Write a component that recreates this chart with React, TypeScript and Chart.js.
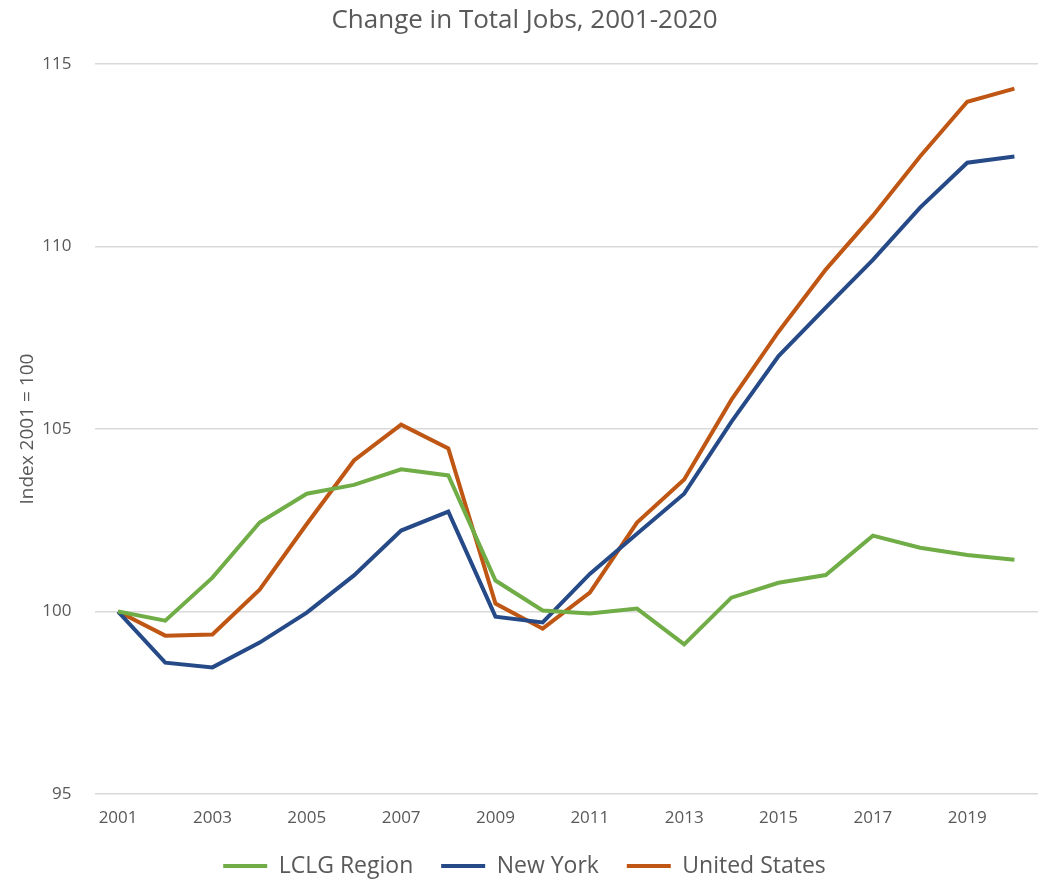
import React, { useEffect, useRef } from "react";
import { Chart, registerables } from "chart.js";

Chart.register(...registerables);

const years = [
  "2001", "2002", "2003", "2004", "2005", "2006", "2007", "2008", "2009", "2010",
  "2011", "2012", "2013", "2014", "2015", "2016", "2017", "2018", "2019", "2020",
];
const lclgRegion = [
  100, 99.75, 100.93, 102.44, 103.23, 103.47, 103.9, 103.73, 100.85, 100.03,
  99.95, 100.08, 99.1, 100.38, 100.79, 101.0, 102.08, 101.75, 101.55, 101.42,
];
const newYork = [
  100, 98.6, 98.47, 99.15, 99.97, 100.99, 102.22, 102.74, 99.86, 99.7,
  101.03, 102.13, 103.23, 105.2, 107.0, 108.33, 109.64, 111.07, 112.3, 112.47,
];
const unitedStates = [
  100, 99.34, 99.37, 100.6, 102.4, 104.14, 105.12, 104.47, 100.22, 99.53,
  100.52, 102.44, 103.62, 105.8, 107.67, 109.37, 110.85, 112.47, 113.97, 114.33,
];
const yTicks = [95, 100, 105, 110, 115];

const FONT = "'Open Sans', 'Liberation Sans', sans-serif";
const GRAY = "#595959";
const BOTTOM_PAD = -4.5;
const LEFT_PAD = 5;

export default function App() {
  const ref = useRef<HTMLCanvasElement | null>(null);

  useEffect(() => {
    document.body.style.margin = "0";
    const ctx = ref.current!;
    const chart = new Chart(ctx, {
      type: "line",
      data: {
        labels: years,
        datasets: [
          { label: "LCLG Region", data: lclgRegion, borderColor: "#70AD47", backgroundColor: "#70AD47" },
          { label: "New York", data: newYork, borderColor: "#264A87", backgroundColor: "#264A87" },
          { label: "United States", data: unitedStates, borderColor: "#BF5614", backgroundColor: "#BF5614" },
        ].map((d) => ({ ...d, borderWidth: 4, pointRadius: 0, tension: 0, fill: false })),
      },
      options: {
        animation: false,
        responsive: true,
        maintainAspectRatio: false,
        layout: { padding: { left: LEFT_PAD, right: -6, top: 0, bottom: BOTTOM_PAD } },
        plugins: {
          tooltip: { enabled: false },
          title: {
            display: true,
            text: "Change in Total Jobs, 2001-2020",
            color: GRAY,
            font: { family: FONT, size: 26, weight: "normal" },
            padding: { top: 5, bottom: 28 },
          },
          legend: {
            position: "bottom",
            labels: {
              color: GRAY,
              font: { family: FONT, size: 23 },
              boxWidth: 44,
              boxHeight: 4,
              padding: 10,
              generateLabels: (c: any) =>
                Chart.defaults.plugins.legend.labels
                  .generateLabels(c)
                  .map((l: any, i: number, arr: any[]) => ({
                    ...l,
                    lineWidth: 0,
                    text: i < arr.length - 1 ? l.text + "   " : l.text,
                  })),
            },
          },
        },
        scales: {
          x: {
            offset: true,
            grid: { display: false, drawTicks: false },
            border: { display: false },
            ticks: {
              color: GRAY,
              font: { family: FONT, size: 17 },
              maxRotation: 0,
              autoSkip: false,
              padding: 14,
              callback: (_v: any, i: number) => (i % 2 === 0 ? years[i] : ""),
            },
            afterFit: (s: any) => {
              const lh = s.chart.legend ? s.chart.legend.height : 0;
              s.height = 883 - BOTTOM_PAD - lh - 794;
            },
          },
          y: {
            min: yTicks[0],
            max: yTicks[yTicks.length - 1],
            afterBuildTicks: (s: any) => {
              s.ticks = yTicks.map((v) => ({ value: v }));
            },
            grid: { color: "#d9d9d9", lineWidth: 1.5, drawTicks: false },
            border: { display: false },
            ticks: { color: GRAY, font: { family: FONT, size: 17 }, padding: 23 },
            title: {
              display: true,
              text: "Index 2001 = 100",
              color: GRAY,
              font: { family: FONT, size: 19 },
              padding: { top: 11, bottom: 0 },
            },
            afterFit: (s: any) => {
              s.width = 94.5 - LEFT_PAD;
            },
          },
        },
      },
    } as any);
    return () => chart.destroy();
  }, []);

  return (
    <div style={{ position: "absolute", left: 0, top: 0, width: 1038, height: 883, background: "#fff", overflow: "hidden" }}>
      <canvas ref={ref} />
    </div>
  );
}
